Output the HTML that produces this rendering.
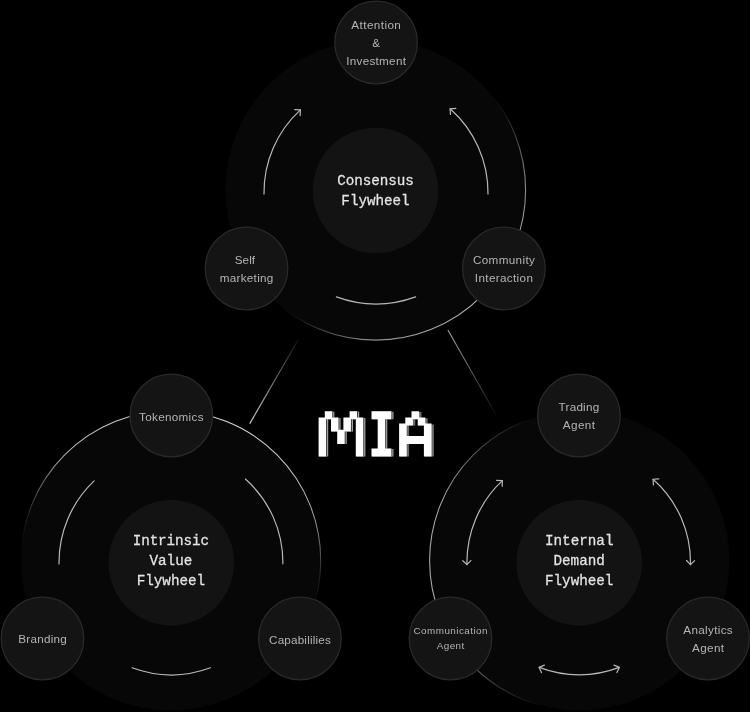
<!DOCTYPE html>
<html><head><meta charset="utf-8"><title>MIA Flywheels</title>
<style>html,body{margin:0;padding:0;background:#000000;}body{width:750px;height:712px;overflow:hidden;font-family:"Liberation Sans",sans-serif;}svg{display:block;will-change:transform;}</style>
</head><body>
<svg width="750" height="712" viewBox="0 0 750 712">
<rect width="750" height="712" fill="#000000"/>
<linearGradient id="l1" gradientUnits="userSpaceOnUse" x1="249.8" y1="423.6" x2="298.5" y2="339.2"><stop offset="0" stop-color="#fff" stop-opacity="0.8"/><stop offset="1" stop-color="#fff" stop-opacity="0.05"/></linearGradient>
<line x1="249.8" y1="423.6" x2="298.5" y2="339.2" stroke="url(#l1)" stroke-width="1.2"/>
<linearGradient id="l2" gradientUnits="userSpaceOnUse" x1="447.9" y1="330.1" x2="496.7" y2="415.9"><stop offset="0" stop-color="#fff" stop-opacity="0.65"/><stop offset="1" stop-color="#fff" stop-opacity="0.03"/></linearGradient>
<line x1="447.9" y1="330.1" x2="496.7" y2="415.9" stroke="url(#l2)" stroke-width="1.1"/>
<linearGradient id="g1" gradientUnits="userSpaceOnUse" x1="388.2" y1="202.7" x2="481.6" y2="296.1"><stop offset="0.000" stop-color="#fff" stop-opacity="0"/><stop offset="0.148" stop-color="#fff" stop-opacity="0.08"/><stop offset="0.602" stop-color="#fff" stop-opacity="0.52"/><stop offset="1.000" stop-color="#fff" stop-opacity="0.7"/></linearGradient>
<circle cx="375.5" cy="190.0" r="150.1" fill="#070707"/>
<circle cx="375.5" cy="190.0" r="150.1" fill="none" stroke="url(#g1)" stroke-width="1.05"/>
<circle cx="375.5" cy="190.5" r="62.8" fill="#131313"/>
<path d="M264.00 193.90 A112 112 0 0 1 300.40 109.90" fill="none" stroke="#b8b8b8" stroke-width="1.2" stroke-linecap="round"/>
<path d="M300.15 115.59 L300.40 109.90 L294.71 109.65" fill="none" stroke="#b8b8b8" stroke-width="1.2" stroke-linecap="round" stroke-linejoin="round"/>
<path d="M450.10 108.80 A112 112 0 0 1 488.00 193.90" fill="none" stroke="#b8b8b8" stroke-width="1.2" stroke-linecap="round"/>
<path d="M455.79 108.44 L450.10 108.80 L450.46 114.49" fill="none" stroke="#b8b8b8" stroke-width="1.2" stroke-linecap="round" stroke-linejoin="round"/>
<path d="M415.60 296.90 A115.5 115.5 0 0 1 336.40 296.90" fill="none" stroke="#b8b8b8" stroke-width="1.2" stroke-linecap="round"/>
<circle cx="376.1" cy="42.5" r="41.3" fill="#141414" stroke="#292929" stroke-width="1.3"/>
<text transform="translate(376.1 29.3) scale(1 1.0)" text-anchor="middle" font-family="Liberation Sans" font-size="11.7" font-weight="400" fill="#b4b4b4" textLength="49.5" lengthAdjust="spacing">Attention</text>
<text transform="translate(376.1 47.4) scale(1 1.0)" text-anchor="middle" font-family="Liberation Sans" font-size="11.7" font-weight="400" fill="#b4b4b4">&amp;</text>
<text transform="translate(376.1 64.9) scale(1 1.0)" text-anchor="middle" font-family="Liberation Sans" font-size="11.7" font-weight="400" fill="#b4b4b4" textLength="59.7" lengthAdjust="spacing">Investment</text>
<circle cx="246.5" cy="268.5" r="41.3" fill="#141414" stroke="#292929" stroke-width="1.3"/>
<text transform="translate(244.9 264.3) scale(1 1.0)" text-anchor="middle" font-family="Liberation Sans" font-size="11.7" font-weight="400" fill="#b4b4b4" textLength="20.3" lengthAdjust="spacing">Self</text>
<text transform="translate(246.5 282.3) scale(1 1.0)" text-anchor="middle" font-family="Liberation Sans" font-size="11.7" font-weight="400" fill="#b4b4b4" textLength="53.7" lengthAdjust="spacing">marketing</text>
<circle cx="503.9" cy="268.5" r="41.3" fill="#141414" stroke="#292929" stroke-width="1.3"/>
<text transform="translate(503.9 263.9) scale(1 1.0)" text-anchor="middle" font-family="Liberation Sans" font-size="11.7" font-weight="400" fill="#b4b4b4" textLength="62" lengthAdjust="spacing">Community</text>
<text transform="translate(503.9 282.3) scale(1 1.0)" text-anchor="middle" font-family="Liberation Sans" font-size="11.7" font-weight="400" fill="#b4b4b4" textLength="58.1" lengthAdjust="spacing">Interaction</text>
<text transform="translate(375.5 185.3) scale(1 1.07)" text-anchor="middle" font-family="Liberation Mono" font-size="14.3" font-weight="400" fill="#e4e4e4" stroke="#e4e4e4" stroke-width="0.25" textLength="76.6" lengthAdjust="spacing">Consensus</text>
<text transform="translate(375.5 204.9) scale(1 1.07)" text-anchor="middle" font-family="Liberation Mono" font-size="14.3" font-weight="400" fill="#e4e4e4" stroke="#e4e4e4" stroke-width="0.25" textLength="68.3" lengthAdjust="spacing">Flywheel</text>
<linearGradient id="g2" gradientUnits="userSpaceOnUse" x1="167.7" y1="575.3" x2="202.0" y2="414.0"><stop offset="0.000" stop-color="#fff" stop-opacity="0"/><stop offset="0.182" stop-color="#fff" stop-opacity="0.12"/><stop offset="0.364" stop-color="#fff" stop-opacity="0.38"/><stop offset="0.591" stop-color="#fff" stop-opacity="0.66"/><stop offset="1.000" stop-color="#fff" stop-opacity="0.85"/></linearGradient>
<circle cx="170.85" cy="560.6" r="149.9" fill="#070707"/>
<circle cx="170.85" cy="560.6" r="149.9" fill="none" stroke="url(#g2)" stroke-width="1.05"/>
<circle cx="171.3" cy="562.8" r="62.8" fill="#131313"/>
<path d="M59.01 563.87 A112.3 112.3 0 0 1 94.14 480.91" fill="none" stroke="#b8b8b8" stroke-width="1.2" stroke-linecap="round"/>
<path d="M245.39 479.05 A111.6 111.6 0 0 1 282.89 563.86" fill="none" stroke="#b8b8b8" stroke-width="1.2" stroke-linecap="round"/>
<path d="M210.44 667.76 A112.3 112.3 0 0 1 132.16 667.76" fill="none" stroke="#b8b8b8" stroke-width="1.2" stroke-linecap="round"/>
<circle cx="171.3" cy="415.5" r="41.3" fill="#141414" stroke="#292929" stroke-width="1.3"/>
<text transform="translate(171.3 420.7) scale(1 1.0)" text-anchor="middle" font-family="Liberation Sans" font-size="11.7" font-weight="400" fill="#b4b4b4" textLength="64.4" lengthAdjust="spacing">Tokenomics</text>
<circle cx="42.5" cy="638.5" r="41.3" fill="#141414" stroke="#292929" stroke-width="1.3"/>
<text transform="translate(42.5 643.3) scale(1 1.0)" text-anchor="middle" font-family="Liberation Sans" font-size="11.7" font-weight="400" fill="#b4b4b4" textLength="48.6" lengthAdjust="spacing">Branding</text>
<circle cx="299.9" cy="638.5" r="41.3" fill="#141414" stroke="#292929" stroke-width="1.3"/>
<text transform="translate(299.9 643.5) scale(1 1.0)" text-anchor="middle" font-family="Liberation Sans" font-size="11.7" font-weight="400" fill="#b4b4b4" textLength="61.7" lengthAdjust="spacing">Capabililies</text>
<text transform="translate(170.9 545.3) scale(1 1.07)" text-anchor="middle" font-family="Liberation Mono" font-size="14.3" font-weight="400" fill="#e4e4e4" stroke="#e4e4e4" stroke-width="0.25" textLength="76.5" lengthAdjust="spacing">Intrinsic</text>
<text transform="translate(170.9 565.1) scale(1 1.07)" text-anchor="middle" font-family="Liberation Mono" font-size="14.3" font-weight="400" fill="#e4e4e4" stroke="#e4e4e4" stroke-width="0.25">Value</text>
<text transform="translate(170.9 584.9) scale(1 1.07)" text-anchor="middle" font-family="Liberation Mono" font-size="14.3" font-weight="400" fill="#e4e4e4" stroke="#e4e4e4" stroke-width="0.25" textLength="68.3" lengthAdjust="spacing">Flywheel</text>
<linearGradient id="g3" gradientUnits="userSpaceOnUse" x1="537.5" y1="562.1" x2="429.7" y2="565.8"><stop offset="0.000" stop-color="#fff" stop-opacity="0"/><stop offset="0.403" stop-color="#fff" stop-opacity="0.2"/><stop offset="0.861" stop-color="#fff" stop-opacity="0.62"/><stop offset="1.000" stop-color="#fff" stop-opacity="0.68"/></linearGradient>
<circle cx="579.45" cy="560.6" r="149.85" fill="#070707"/>
<circle cx="579.45" cy="560.6" r="149.85" fill="none" stroke="url(#g3)" stroke-width="1.05"/>
<circle cx="579.2" cy="562.8" r="62.8" fill="#131313"/>
<path d="M466.92 564.66 A112.3 112.3 0 0 1 502.33 480.64" fill="none" stroke="#b8b8b8" stroke-width="1.2" stroke-linecap="round"/>
<path d="M462.81 560.70 L466.92 564.66 L470.87 560.55" fill="none" stroke="#b8b8b8" stroke-width="1.2" stroke-linecap="round" stroke-linejoin="round"/>
<path d="M502.15 486.33 L502.33 480.64 L496.63 480.46" fill="none" stroke="#b8b8b8" stroke-width="1.2" stroke-linecap="round" stroke-linejoin="round"/>
<path d="M653.09 479.27 A111.3 111.3 0 0 1 690.48 564.64" fill="none" stroke="#b8b8b8" stroke-width="1.2" stroke-linecap="round"/>
<path d="M658.78 478.93 L653.09 479.27 L653.43 484.96" fill="none" stroke="#b8b8b8" stroke-width="1.2" stroke-linecap="round" stroke-linejoin="round"/>
<path d="M686.53 560.53 L690.48 564.64 L694.59 560.68" fill="none" stroke="#b8b8b8" stroke-width="1.2" stroke-linecap="round" stroke-linejoin="round"/>
<path d="M619.26 667.41 A112.3 112.3 0 0 1 539.14 667.41" fill="none" stroke="#b8b8b8" stroke-width="1.2" stroke-linecap="round"/>
<path d="M616.93 672.61 L619.26 667.41 L614.06 665.08" fill="none" stroke="#b8b8b8" stroke-width="1.2" stroke-linecap="round" stroke-linejoin="round"/>
<path d="M544.34 665.08 L539.14 667.41 L541.47 672.61" fill="none" stroke="#b8b8b8" stroke-width="1.2" stroke-linecap="round" stroke-linejoin="round"/>
<circle cx="578.9" cy="415.5" r="41.3" fill="#141414" stroke="#292929" stroke-width="1.3"/>
<text transform="translate(578.9 411.3) scale(1 1.0)" text-anchor="middle" font-family="Liberation Sans" font-size="11.7" font-weight="400" fill="#b4b4b4" textLength="40.6" lengthAdjust="spacing">Trading</text>
<text transform="translate(578.9 429.3) scale(1 1.0)" text-anchor="middle" font-family="Liberation Sans" font-size="11.7" font-weight="400" fill="#b4b4b4" textLength="32.4" lengthAdjust="spacing">Agent</text>
<circle cx="450.5" cy="638.5" r="41.3" fill="#141414" stroke="#292929" stroke-width="1.3"/>
<text transform="translate(450.5 634.3) scale(1 1.0)" text-anchor="middle" font-family="Liberation Sans" font-size="9.9" font-weight="400" fill="#b4b4b4" textLength="74" lengthAdjust="spacing">Communication</text>
<text transform="translate(450.5 649.0) scale(1 1.0)" text-anchor="middle" font-family="Liberation Sans" font-size="9.9" font-weight="400" fill="#b4b4b4" textLength="27.6" lengthAdjust="spacing">Agent</text>
<circle cx="708" cy="638.5" r="41.3" fill="#141414" stroke="#292929" stroke-width="1.3"/>
<text transform="translate(708 634.4) scale(1 1.0)" text-anchor="middle" font-family="Liberation Sans" font-size="11.7" font-weight="400" fill="#b4b4b4" textLength="49.3" lengthAdjust="spacing">Analytics</text>
<text transform="translate(708 652.3) scale(1 1.0)" text-anchor="middle" font-family="Liberation Sans" font-size="11.7" font-weight="400" fill="#b4b4b4" textLength="32" lengthAdjust="spacing">Agent</text>
<text transform="translate(579.2 545.3) scale(1 1.07)" text-anchor="middle" font-family="Liberation Mono" font-size="14.3" font-weight="400" fill="#e4e4e4" stroke="#e4e4e4" stroke-width="0.25">Internal</text>
<text transform="translate(579.2 565.1) scale(1 1.07)" text-anchor="middle" font-family="Liberation Mono" font-size="14.3" font-weight="400" fill="#e4e4e4" stroke="#e4e4e4" stroke-width="0.25">Demand</text>
<text transform="translate(579.2 584.9) scale(1 1.07)" text-anchor="middle" font-family="Liberation Mono" font-size="14.3" font-weight="400" fill="#e4e4e4" stroke="#e4e4e4" stroke-width="0.25" textLength="68.3" lengthAdjust="spacing">Flywheel</text>
<path d="M325.80 411.80h8.60v7.40h-8.60zM350.60 411.80h8.60v7.40h-8.60zM319.60 418.00h8.60v7.40h-8.60zM332.00 418.00h8.60v7.40h-8.60zM344.40 418.00h8.60v7.40h-8.60zM356.80 418.00h8.60v7.40h-8.60zM319.60 424.20h8.60v7.40h-8.60zM332.00 424.20h8.60v7.40h-8.60zM344.40 424.20h8.60v7.40h-8.60zM356.80 424.20h8.60v7.40h-8.60zM319.60 430.40h8.60v7.40h-8.60zM338.20 430.40h8.60v7.40h-8.60zM356.80 430.40h8.60v7.40h-8.60zM319.60 436.60h8.60v7.40h-8.60zM338.20 436.60h8.60v7.40h-8.60zM356.80 436.60h8.60v7.40h-8.60zM319.60 442.80h8.60v7.40h-8.60zM356.80 442.80h8.60v7.40h-8.60zM319.60 449.00h8.60v7.40h-8.60zM356.80 449.00h8.60v7.40h-8.60z" fill="#a4a4a4" fill-rule="nonzero"/>
<path d="M325.80 411.50h7.40v7.70h-7.40zM350.60 411.50h7.40v7.70h-7.40zM319.60 417.70h7.40v7.70h-7.40zM332.00 417.70h7.40v7.70h-7.40zM344.40 417.70h7.40v7.70h-7.40zM356.80 417.70h7.40v7.70h-7.40zM319.60 423.90h7.40v7.70h-7.40zM332.00 423.90h7.40v7.70h-7.40zM344.40 423.90h7.40v7.70h-7.40zM356.80 423.90h7.40v7.70h-7.40zM319.60 430.10h7.40v7.70h-7.40zM338.20 430.10h7.40v7.70h-7.40zM356.80 430.10h7.40v7.70h-7.40zM319.60 436.30h7.40v7.70h-7.40zM338.20 436.30h7.40v7.70h-7.40zM356.80 436.30h7.40v7.70h-7.40zM319.60 442.50h7.40v7.70h-7.40zM356.80 442.50h7.40v7.70h-7.40zM319.60 448.70h7.40v7.70h-7.40zM356.80 448.70h7.40v7.70h-7.40z" fill="#303030" fill-rule="nonzero"/>
<path d="M324.80 411.20h7.50v8.00h-7.50zM349.60 411.20h7.50v8.00h-7.50zM318.60 417.40h7.50v8.00h-7.50zM331.00 417.40h7.50v8.00h-7.50zM343.40 417.40h7.50v8.00h-7.50zM355.80 417.40h7.50v8.00h-7.50zM318.60 423.60h7.50v8.00h-7.50zM331.00 423.60h7.50v8.00h-7.50zM343.40 423.60h7.50v8.00h-7.50zM355.80 423.60h7.50v8.00h-7.50zM318.60 429.80h7.50v8.00h-7.50zM337.20 429.80h7.50v8.00h-7.50zM355.80 429.80h7.50v8.00h-7.50zM318.60 436.00h7.50v8.00h-7.50zM337.20 436.00h7.50v8.00h-7.50zM355.80 436.00h7.50v8.00h-7.50zM318.60 442.20h7.50v8.00h-7.50zM355.80 442.20h7.50v8.00h-7.50zM318.60 448.40h7.50v8.00h-7.50zM355.80 448.40h7.50v8.00h-7.50z" fill="#ffffff" fill-rule="nonzero"/>
<path d="M372.50 411.80h8.60v7.40h-8.60zM378.70 411.80h8.60v7.40h-8.60zM384.90 411.80h8.60v7.40h-8.60zM378.70 418.00h8.60v7.40h-8.60zM378.70 424.20h8.60v7.40h-8.60zM378.70 430.40h8.60v7.40h-8.60zM378.70 436.60h8.60v7.40h-8.60zM378.70 442.80h8.60v7.40h-8.60zM372.50 449.00h8.60v7.40h-8.60zM378.70 449.00h8.60v7.40h-8.60zM384.90 449.00h8.60v7.40h-8.60z" fill="#a4a4a4" fill-rule="nonzero"/>
<path d="M372.50 411.50h7.40v7.70h-7.40zM378.70 411.50h7.40v7.70h-7.40zM384.90 411.50h7.40v7.70h-7.40zM378.70 417.70h7.40v7.70h-7.40zM378.70 423.90h7.40v7.70h-7.40zM378.70 430.10h7.40v7.70h-7.40zM378.70 436.30h7.40v7.70h-7.40zM378.70 442.50h7.40v7.70h-7.40zM372.50 448.70h7.40v7.70h-7.40zM378.70 448.70h7.40v7.70h-7.40zM384.90 448.70h7.40v7.70h-7.40z" fill="#303030" fill-rule="nonzero"/>
<path d="M371.50 411.20h7.50v8.00h-7.50zM377.70 411.20h7.50v8.00h-7.50zM383.90 411.20h7.50v8.00h-7.50zM377.70 417.40h7.50v8.00h-7.50zM377.70 423.60h7.50v8.00h-7.50zM377.70 429.80h7.50v8.00h-7.50zM377.70 436.00h7.50v8.00h-7.50zM377.70 442.20h7.50v8.00h-7.50zM371.50 448.40h7.50v8.00h-7.50zM377.70 448.40h7.50v8.00h-7.50zM383.90 448.40h7.50v8.00h-7.50z" fill="#ffffff" fill-rule="nonzero"/>
<path d="M412.50 412.10h9.00v7.20h-9.00zM406.30 418.30h9.00v7.20h-9.00zM418.70 418.30h9.00v7.20h-9.00zM400.10 424.50h9.00v7.20h-9.00zM424.90 424.50h9.00v7.20h-9.00zM400.10 430.70h9.00v7.20h-9.00zM424.90 430.70h9.00v7.20h-9.00zM400.10 436.90h9.00v7.20h-9.00zM406.30 436.90h9.00v7.20h-9.00zM412.50 436.90h9.00v7.20h-9.00zM418.70 436.90h9.00v7.20h-9.00zM424.90 436.90h9.00v7.20h-9.00zM400.10 443.10h9.00v7.20h-9.00zM424.90 443.10h9.00v7.20h-9.00zM400.10 449.30h9.00v7.20h-9.00zM424.90 449.30h9.00v7.20h-9.00z" fill="#6c6c6c" fill-rule="nonzero"/>
<path d="M411.50 411.20h7.60v8.00h-7.60zM405.30 417.40h7.60v8.00h-7.60zM417.70 417.40h7.60v8.00h-7.60zM399.10 423.60h7.60v8.00h-7.60zM423.90 423.60h7.60v8.00h-7.60zM399.10 429.80h7.60v8.00h-7.60zM423.90 429.80h7.60v8.00h-7.60zM399.10 436.00h7.60v8.00h-7.60zM405.30 436.00h7.60v8.00h-7.60zM411.50 436.00h7.60v8.00h-7.60zM417.70 436.00h7.60v8.00h-7.60zM423.90 436.00h7.60v8.00h-7.60zM399.10 442.20h7.60v8.00h-7.60zM423.90 442.20h7.60v8.00h-7.60zM399.10 448.40h7.60v8.00h-7.60zM423.90 448.40h7.60v8.00h-7.60z" fill="#ffffff" fill-rule="nonzero"/>
</svg>
</body></html>
